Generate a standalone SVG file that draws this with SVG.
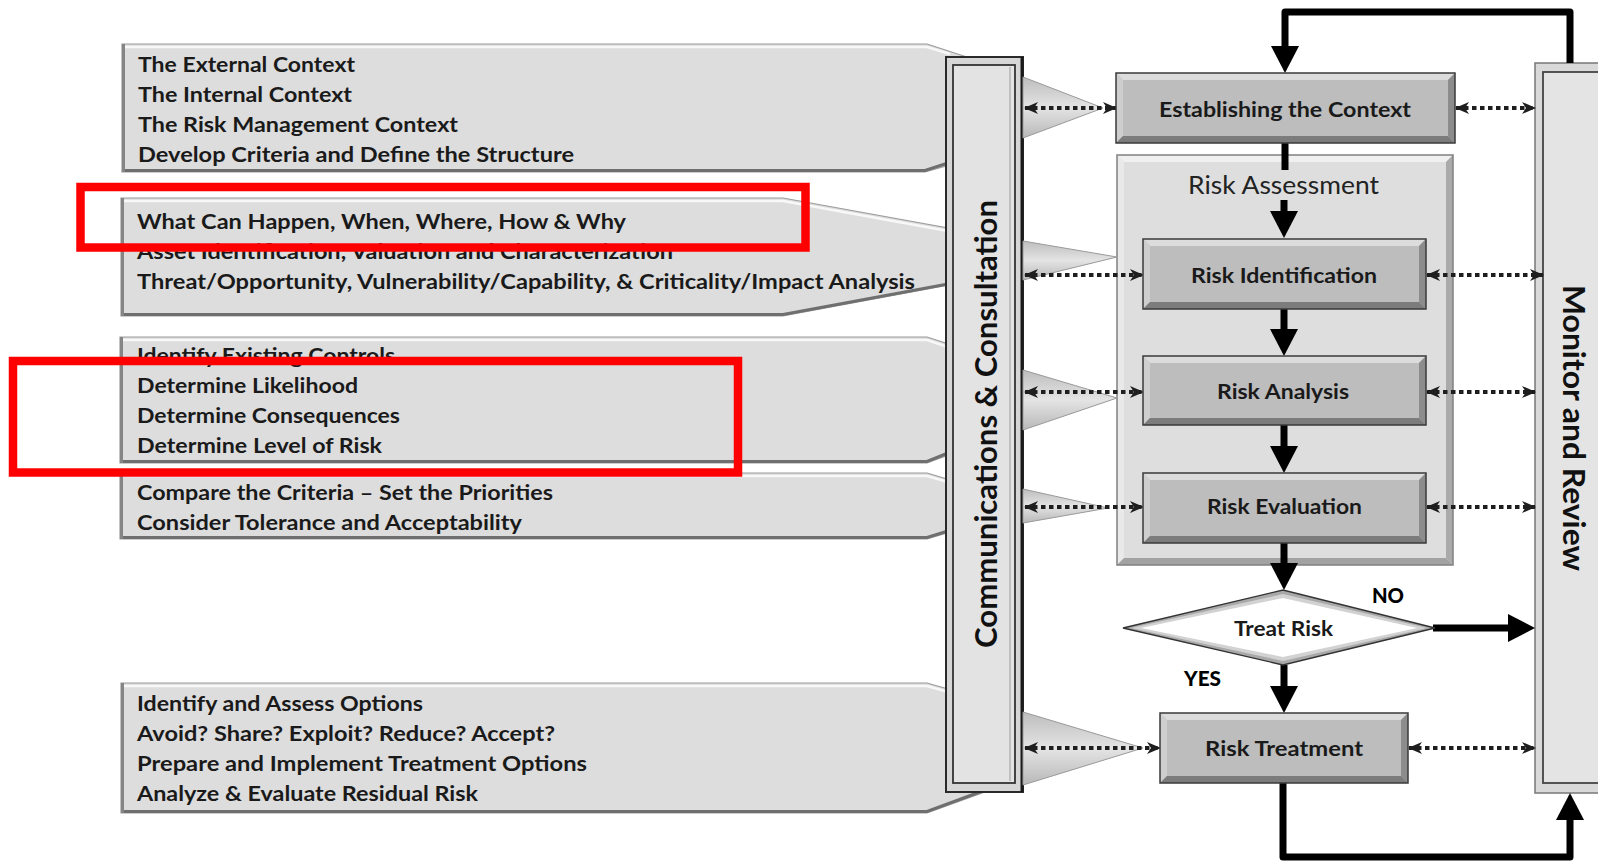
<svg xmlns="http://www.w3.org/2000/svg" width="1598" height="865" viewBox="0 0 1598 865">
  <defs>
    <style>
      .panel { fill:#dddddd; stroke:#9c9c9c; stroke-width:1.2; }
      .hl { fill:none; stroke:#f8f8f8; stroke-width:2.5; }
      .sh { fill:none; stroke:#6f6f6f; stroke-width:3; }
      .le { fill:none; stroke:#858585; stroke-width:3; }
      .ptxt { font-family:Lato, "Open Sans", "Liberation Sans", sans-serif; font-weight:700; font-size:21px; fill:#1a1a1a; }
      .btxt { font-family:Lato, "Open Sans", "Liberation Sans", sans-serif; font-weight:700; font-size:21px; fill:#1a1a1a; text-anchor:middle; }
      .vtxt { font-family:Lato, "Open Sans", "Liberation Sans", sans-serif; font-weight:700; font-size:30px; fill:#111; text-anchor:middle; }
      .yn { font-family:Lato, "Open Sans", "Liberation Sans", sans-serif; font-weight:900; font-size:20px; fill:#000; }
      .tri { fill:url(#triGrad); stroke:#9a9a9a; stroke-width:1; }
      .dot { fill:none; stroke:#1e1e1e; stroke-width:4; stroke-dasharray:4.5 3.5; marker-start:url(#dh); marker-end:url(#dh); }
      .thick { fill:none; stroke:#000; stroke-width:7; }
      .arr { marker-end:url(#bh); }
      .bx-base { fill:#bdbdbd; }
      .bx-top { fill:#dcdcdc; }
      .bx-left { fill:#cecece; }
      .bx-right { fill:#8c8c8c; }
      .bx-bot { fill:#7c7c7c; }
      .bx-line { fill:none; stroke:#3a3a3a; stroke-width:1.5; }
      .ra-base { fill:#dedede; }
      .ra-top { fill:#f0f0f0; }
      .ra-left { fill:#e9e9e9; }
      .ra-right { fill:#aaaaaa; }
      .ra-bot { fill:#a2a2a2; }
      .ra-line { fill:none; stroke:#808080; stroke-width:1.5; }
      .red { fill:none; stroke:#ff0000; stroke-width:8.5; }
    </style>
    <linearGradient id="triGrad" x1="0" y1="0" x2="0" y2="1">
      <stop offset="0" stop-color="#bdbdbd"/>
      <stop offset="0.5" stop-color="#e4e4e4"/>
      <stop offset="1" stop-color="#b8b8b8"/>
    </linearGradient>
    <marker id="dh" viewBox="0 0 14 12" refX="13" refY="6" markerWidth="14" markerHeight="12" markerUnits="userSpaceOnUse" orient="auto-start-reverse">
      <path d="M0,0 L14,6 L0,12 L4,6 Z" fill="#1e1e1e"/>
    </marker>
    <marker id="bh" viewBox="0 0 27 28" refX="0" refY="14" markerWidth="27" markerHeight="28" markerUnits="userSpaceOnUse" orient="auto">
      <path d="M0,0 L27,14 L0,28 Z" fill="#000"/>
    </marker>
  </defs>

  <rect width="1598" height="865" fill="#ffffff"/>

  <!-- left-hand description panels -->
  <g id="panel-context">
    <polygon class="panel" points="122,44 927,44 985,63 985,155 925,172 122,172"/>
    <polyline class="hl" points="125,47 927,47 950,54"/>
    <polyline class="sh" points="123,170.5 925,170.5 948,163"/>
    <line class="le" x1="123.5" y1="44" x2="123.5" y2="172"/>
    <text class="ptxt" x="138" y="72" textLength="217" lengthAdjust="spacingAndGlyphs">The External Context</text>
    <text class="ptxt" x="138" y="102" textLength="214" lengthAdjust="spacingAndGlyphs">The Internal Context</text>
    <text class="ptxt" x="138" y="132" textLength="320" lengthAdjust="spacingAndGlyphs">The Risk Management Context</text>
    <text class="ptxt" x="138" y="162" textLength="436" lengthAdjust="spacingAndGlyphs">Develop Criteria and Define the Structure</text>
  </g>

  <g id="panel-identification">
    <polygon class="panel" points="121,198 783,198 970,232 970,281 783,316 121,316"/>
    <polyline class="hl" points="124,201 783,201 948,231"/>
    <polyline class="sh" points="122,314.5 783,314.5 948,284"/>
    <line class="le" x1="122.5" y1="198" x2="122.5" y2="316"/>
    <text class="ptxt" x="137" y="229" textLength="489" lengthAdjust="spacingAndGlyphs">What Can Happen, When, Where, How &amp; Why</text>
    <text class="ptxt" x="137" y="259" textLength="536" lengthAdjust="spacingAndGlyphs">Asset Identification, Valuation and Characterization</text>
    <text class="ptxt" x="137" y="289" textLength="778" lengthAdjust="spacingAndGlyphs">Threat/Opportunity, Vulnerability/Capability, &amp; Criticality/Impact Analysis</text>
  </g>

  <g id="panel-analysis">
    <polygon class="panel" points="120,337 927,337 970,351 970,447 927,463 120,463"/>
    <polyline class="hl" points="123,340 927,340 948,347"/>
    <polyline class="sh" points="121,461.5 927,461.5 948,453"/>
    <line class="le" x1="121.5" y1="337" x2="121.5" y2="463"/>
    <text class="ptxt" x="137" y="363" textLength="258" lengthAdjust="spacingAndGlyphs">Identify Existing Controls</text>
    <text class="ptxt" x="137" y="393" textLength="221" lengthAdjust="spacingAndGlyphs">Determine Likelihood</text>
    <text class="ptxt" x="137" y="423" textLength="263" lengthAdjust="spacingAndGlyphs">Determine Consequences</text>
    <text class="ptxt" x="137" y="453" textLength="245" lengthAdjust="spacingAndGlyphs">Determine Level of Risk</text>
  </g>

  <g id="panel-evaluation">
    <polygon class="panel" points="120,473 927,473 970,486 970,526 927,539 120,539"/>
    <polyline class="hl" points="123,476 927,476 948,482"/>
    <polyline class="sh" points="121,537.5 927,537.5 948,531"/>
    <line class="le" x1="121.5" y1="473" x2="121.5" y2="539"/>
    <text class="ptxt" x="137" y="500" textLength="416" lengthAdjust="spacingAndGlyphs">Compare the Criteria – Set the Priorities</text>
    <text class="ptxt" x="137" y="530" textLength="385" lengthAdjust="spacingAndGlyphs">Consider Tolerance and Acceptability</text>
  </g>

  <g id="panel-treatment">
    <polygon class="panel" points="121,683 927,683 990,701 990,790 927,813 121,813"/>
    <polyline class="hl" points="124,686 927,686 948,692"/>
    <polyline class="sh" points="122,811.5 927,811.5 988,789"/>
    <line class="le" x1="122.5" y1="683" x2="122.5" y2="813"/>
    <text class="ptxt" x="137" y="711" textLength="286" lengthAdjust="spacingAndGlyphs">Identify and Assess Options</text>
    <text class="ptxt" x="137" y="741" textLength="418" lengthAdjust="spacingAndGlyphs">Avoid? Share? Exploit? Reduce? Accept?</text>
    <text class="ptxt" x="137" y="771" textLength="450" lengthAdjust="spacingAndGlyphs">Prepare and Implement Treatment Options</text>
    <text class="ptxt" x="137" y="801" textLength="341" lengthAdjust="spacingAndGlyphs">Analyze &amp; Evaluate Residual Risk</text>
  </g>

  <!-- Communications & Consultation bar -->
  <g id="comms">
    <rect x="946" y="57" width="77" height="735" fill="#d6d6d6" stroke="#2a2a2a" stroke-width="2"/>
    <line x1="1022" y1="57" x2="1022" y2="792" stroke="#1a1a1a" stroke-width="3"/>
    <rect x="953" y="65" width="62" height="718" fill="#e3e3e3" stroke="#333" stroke-width="1.8"/>
    <line x1="1010" y1="67" x2="1010" y2="781" stroke="#a8a8a8" stroke-width="1.2"/>
    <text class="vtxt" transform="translate(997,424) rotate(-90)" textLength="448" lengthAdjust="spacingAndGlyphs">Communications &amp; Consultation</text>
  </g>

  <!-- Monitor and Review bar -->
  <g id="monitor">
    <rect x="1535" y="63" width="90" height="730" fill="#d9d9d9" stroke="#777" stroke-width="1.5"/>
    <rect x="1543" y="72" width="80" height="711" fill="#e4e4e4" stroke="#444" stroke-width="1.8"/>
    <text class="vtxt" transform="translate(1563,428) rotate(90)" textLength="286" lengthAdjust="spacingAndGlyphs">Monitor and Review</text>
  </g>

  <!-- Risk Assessment container -->
  <g id="risk-assessment">
    <rect class="ra-base" x="1117" y="155" width="336" height="410"/>
    <polygon class="ra-top" points="1117,155 1453,155 1446,162 1124,162"/>
    <polygon class="ra-left" points="1117,155 1124,162 1124,558 1117,565"/>
    <polygon class="ra-right" points="1453,155 1453,565 1446,558 1446,162"/>
    <polygon class="ra-bot" points="1117,565 1124,558 1446,558 1453,565"/>
    <rect class="ra-line" x="1117" y="155" width="336" height="410"/>
    <text x="1283.5" y="194" font-family="Lato, 'Open Sans', 'Liberation Sans', sans-serif" font-size="25" fill="#222" text-anchor="middle" textLength="191" lengthAdjust="spacingAndGlyphs">Risk Assessment</text>
  </g>

  <!-- spokes from the communications bar -->
  <g id="spokes">
    <polygon class="tri" points="1023,77 1103,108 1023,138"/>
    <polygon class="tri" points="1023,241 1117,257 1023,280"/>
    <polygon class="tri" points="1023,370 1117,398 1023,430"/>
    <polygon class="tri" points="1023,489 1108,508 1023,523"/>
    <polygon class="tri" points="1023,712 1143,748 1023,785"/>
  </g>

  <!-- connectors -->
  <g id="connectors">
    <line class="dot" x1="1025" y1="108" x2="1116" y2="108"/>
    <line class="dot" x1="1025" y1="275" x2="1143" y2="275"/>
    <line class="dot" x1="1025" y1="392" x2="1143" y2="392"/>
    <line class="dot" x1="1025" y1="507" x2="1143" y2="507"/>
    <line class="dot" x1="1025" y1="748" x2="1160" y2="748"/>
    <line class="dot" x1="1456" y1="108" x2="1535" y2="108"/>
    <line class="dot" x1="1427" y1="275" x2="1543" y2="275"/>
    <line class="dot" x1="1427" y1="392" x2="1535" y2="392"/>
    <line class="dot" x1="1427" y1="507" x2="1535" y2="507"/>
    <line class="dot" x1="1409" y1="748" x2="1535" y2="748"/>

    <path class="thick arr" d="M1570,63 V12 H1285 V46" stroke-linejoin="round"/>
    <path class="thick" d="M1285,143 V170"/>
    <path class="thick arr" d="M1284,200 V211"/>
    <path class="thick arr" d="M1284,309 V329"/>
    <path class="thick arr" d="M1284,425 V446"/>
    <path class="thick arr" d="M1284,543 V563"/>
    <path class="thick arr" d="M1433,628 H1508"/>
    <path class="thick arr" d="M1284,665 V686"/>
    <path class="thick arr" d="M1283,783 V857 H1570 V820" stroke-linejoin="round"/>
  </g>

  <!-- process steps -->
  <g id="establishing-context">
    <rect class="bx-base" x="1116" y="73" width="339" height="70"/>
    <polygon class="bx-top" points="1116,73 1455,73 1448,80 1123,80"/>
    <polygon class="bx-left" points="1116,73 1123,80 1123,136 1116,143"/>
    <polygon class="bx-right" points="1455,73 1455,143 1448,136 1448,80"/>
    <polygon class="bx-bot" points="1116,143 1123,136 1448,136 1455,143"/>
    <rect class="bx-line" x="1116" y="73" width="339" height="70"/>
    <text class="btxt" x="1285" y="117" textLength="252" lengthAdjust="spacingAndGlyphs">Establishing the Context</text>
  </g>

  <g id="risk-identification">
    <rect class="bx-base" x="1143" y="239" width="283" height="70"/>
    <polygon class="bx-top" points="1143,239 1426,239 1419,246 1150,246"/>
    <polygon class="bx-left" points="1143,239 1150,246 1150,302 1143,309"/>
    <polygon class="bx-right" points="1426,239 1426,309 1419,302 1419,246"/>
    <polygon class="bx-bot" points="1143,309 1150,302 1419,302 1426,309"/>
    <rect class="bx-line" x="1143" y="239" width="283" height="70"/>
    <text class="btxt" x="1284" y="283" textLength="186" lengthAdjust="spacingAndGlyphs">Risk Identification</text>
  </g>

  <g id="risk-analysis">
    <rect class="bx-base" x="1143" y="356" width="283" height="69"/>
    <polygon class="bx-top" points="1143,356 1426,356 1419,363 1150,363"/>
    <polygon class="bx-left" points="1143,356 1150,363 1150,418 1143,425"/>
    <polygon class="bx-right" points="1426,356 1426,425 1419,418 1419,363"/>
    <polygon class="bx-bot" points="1143,425 1150,418 1419,418 1426,425"/>
    <rect class="bx-line" x="1143" y="356" width="283" height="69"/>
    <text class="btxt" x="1283" y="399" textLength="132" lengthAdjust="spacingAndGlyphs">Risk Analysis</text>
  </g>

  <g id="risk-evaluation">
    <rect class="bx-base" x="1143" y="473" width="283" height="70"/>
    <polygon class="bx-top" points="1143,473 1426,473 1419,480 1150,480"/>
    <polygon class="bx-left" points="1143,473 1150,480 1150,536 1143,543"/>
    <polygon class="bx-right" points="1426,473 1426,543 1419,536 1419,480"/>
    <polygon class="bx-bot" points="1143,543 1150,536 1419,536 1426,543"/>
    <rect class="bx-line" x="1143" y="473" width="283" height="70"/>
    <text class="btxt" x="1284.5" y="514" textLength="155" lengthAdjust="spacingAndGlyphs">Risk Evaluation</text>
  </g>

  <g id="treat-risk">
    <polygon points="1123,628 1283,590 1435,628 1283,665" fill="#a9a9a9" stroke="#333" stroke-width="1.3"/>
    <polygon points="1131,628 1283,594 1427,628 1283,661" fill="#d2d2d2"/>
    <polygon points="1141,628 1283,598 1417,628 1283,657" fill="#ffffff"/>
    <text class="btxt" x="1283.5" y="636" textLength="99" lengthAdjust="spacingAndGlyphs">Treat Risk</text>
    <text class="yn" x="1372" y="603" textLength="32" lengthAdjust="spacingAndGlyphs">NO</text>
    <text class="yn" x="1184" y="686" textLength="37" lengthAdjust="spacingAndGlyphs">YES</text>
  </g>

  <g id="risk-treatment">
    <rect class="bx-base" x="1160" y="713" width="248" height="70"/>
    <polygon class="bx-top" points="1160,713 1408,713 1401,720 1167,720"/>
    <polygon class="bx-left" points="1160,713 1167,720 1167,776 1160,783"/>
    <polygon class="bx-right" points="1408,713 1408,783 1401,776 1401,720"/>
    <polygon class="bx-bot" points="1160,783 1167,776 1401,776 1408,783"/>
    <rect class="bx-line" x="1160" y="713" width="248" height="70"/>
    <text class="btxt" x="1284" y="756" textLength="158" lengthAdjust="spacingAndGlyphs">Risk Treatment</text>
  </g>

  <!-- highlight frames -->
  <g id="highlights">
    <rect class="red" x="80.5" y="187" width="725" height="60.5"/>
    <rect class="red" x="13" y="361" width="725" height="111.5"/>
  </g>
</svg>
